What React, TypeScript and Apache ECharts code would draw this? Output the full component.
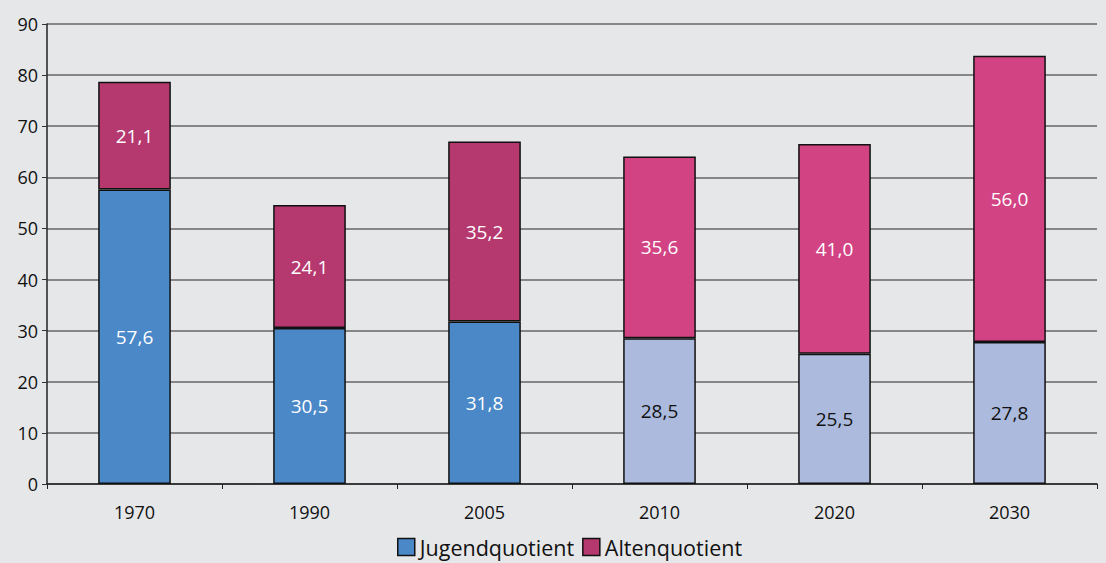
import React, { useEffect, useRef } from "react";
import * as echarts from "echarts";

const years = ["1970", "1990", "2005", "2010", "2020", "2030"];
const jugend = [57.6, 30.5, 31.8, 28.5, 25.5, 27.8];
const alten = [21.1, 24.1, 35.2, 35.6, 41.0, 56.0];
const yTicks = [0, 10, 20, 30, 40, 50, 60, 70, 80, 90];

const jugendDark = "#4a88c8";
const jugendLight = "#abbadd";
const altenDark = "#b5396f";
const altenLight = "#d24384";
const projectedFrom = 3;

const fmt = (v: number) => v.toFixed(1).replace(".", ",");

export default function App() {
  const ref = useRef<HTMLDivElement>(null);
  useEffect(() => {
    const chart = echarts.init(ref.current!, null, { renderer: "svg" });
    const font = "'Open Sans', 'Noto Sans', sans-serif";
    chart.setOption({
      animation: false,
      backgroundColor: "#e6e7e9",
      textStyle: { fontFamily: font },
      grid: { left: 47, right: 9, top: 24, bottom: 79 },
      legend: {
        bottom: 0,
        left: 392,
        itemWidth: 17,
        itemHeight: 17,
        itemGap: 8,
        icon: "rect",
        textStyle: { fontSize: 21.5, color: "#111", fontFamily: font, padding: [0, 0, 0, 0] },
        data: [
          { name: "Jugendquotient", itemStyle: { color: jugendDark, borderColor: "#111", borderWidth: 1.5 } },
          { name: "Altenquotient", itemStyle: { color: altenDark, borderColor: "#111", borderWidth: 1.5 } },
        ],
      },
      xAxis: {
        type: "category",
        data: years,
        axisLine: { lineStyle: { color: "#222", width: 1.5 } },
        axisTick: { show: true, length: 5, lineStyle: { color: "#222" } },
        axisLabel: { color: "#111", fontSize: 18, margin: 19, fontFamily: font },
      },
      yAxis: {
        type: "value",
        min: yTicks[0],
        max: yTicks[yTicks.length - 1],
        interval: 10,
        axisLine: { show: true, lineStyle: { color: "#222", width: 1.5 } },
        axisTick: { show: true, length: 5, lineStyle: { color: "#333" } },
        axisLabel: { color: "#111", fontSize: 18, margin: 9, fontFamily: font },
        splitLine: { lineStyle: { color: "#666", width: 1.5 } },
      },
      series: [
        {
          name: "Jugendquotient",
          type: "bar",
          stack: "t",
          barWidth: "41.5%",
          itemStyle: { color: jugendDark, borderColor: "#111", borderWidth: 1.5 },
          label: {
            show: true,
            position: "inside",
            fontSize: 19,
            fontFamily: font,
            formatter: (p: any) => fmt(p.value),
          },
          data: jugend.map((v, i) => ({
            value: v,
            itemStyle: { color: i >= projectedFrom ? jugendLight : jugendDark },
            label: { color: i >= projectedFrom ? "#111" : "#fff" },
          })),
        },
        {
          name: "Altenquotient",
          type: "bar",
          stack: "t",
          barWidth: "41.5%",
          itemStyle: { color: altenDark, borderColor: "#111", borderWidth: 1.5 },
          label: {
            show: true,
            position: "inside",
            color: "#fff",
            fontSize: 19,
            fontFamily: font,
            formatter: (p: any) => fmt(p.value),
          },
          data: alten.map((v, i) => ({
            value: v,
            itemStyle: { color: i >= projectedFrom ? altenLight : altenDark },
          })),
        },
      ],
    });
    return () => chart.dispose();
  }, []);
  return (
    <div
      ref={ref}
      style={{ position: "fixed", left: 0, top: 0, width: 1106, height: 563 }}
    />
  );
}
